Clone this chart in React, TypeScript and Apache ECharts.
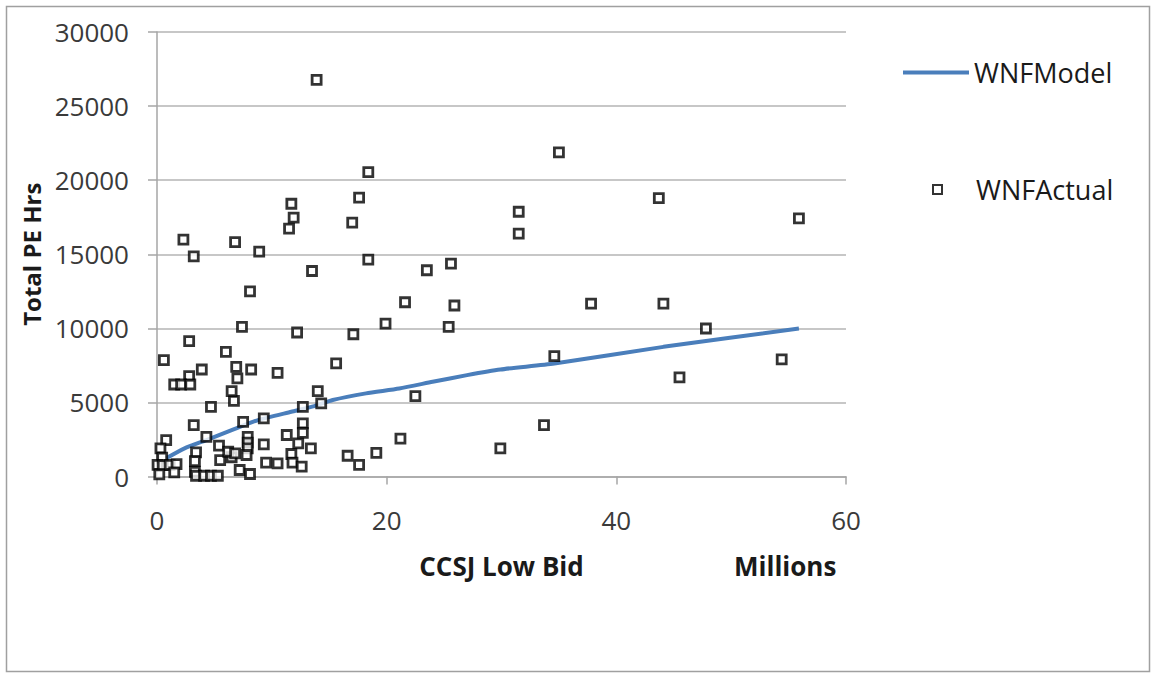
import React, { useEffect, useRef } from "react";
import * as echarts from "echarts";

// WNFActual: CCSJ low bid (millions) vs total PE hours
const bidMillions = [
  3.2, 0.8, 4.3, 0.3, 5.4, 3.4, 0.45, 3.3, 5.5, 0.05, 0.5, 1.1, 1.7, 0.2, 1.5, 3.3, 3.4, 4.1, 4.7, 5.3,
  6.5, 6.2, 6.8, 7.5, 9.3, 7.9, 7.9, 7.9, 9.3, 11.3, 12.3, 12.7, 12.7, 13.4, 7.8, 11.7, 9.5, 10.5, 11.8, 12.6,
  7.2, 8.1, 12.7, 6.7, 4.7, 2.8, 6.0, 0.6, 3.9, 6.9, 8.2, 2.8, 1.5, 2.1, 2.9, 7.0, 6.5, 10.5, 15.6, 14.0,
  14.3, 12.2, 7.4, 11.7, 11.9, 11.5, 2.3, 6.8, 8.9, 3.2, 13.5, 8.1, 13.9, 18.4, 17.6, 17.0, 18.4, 23.5, 25.6, 21.6,
  25.9, 19.9, 17.1, 25.4, 22.5, 21.2, 16.6, 17.6, 19.1, 35.0, 31.5, 31.5, 43.7, 55.9, 37.8, 44.1, 47.8, 34.6, 54.4, 45.5,
  33.7, 29.9,
];
const peHours = [
  3470, 2460, 2680, 1900, 2080, 1630, 1270, 1040, 1110, 780, 770, 780, 840, 150, 280, 320, 50, 50, 50, 50,
  1300, 1670, 1560, 3690, 3920, 2680, 2280, 1900, 2170, 2800, 2240, 3590, 2950, 1900, 1450, 1520, 930, 890, 930, 660,
  440, 170, 4700, 5110, 4700, 9130, 8410, 7850, 7220, 7400, 7220, 6770, 6210, 6210, 6210, 6620, 5760, 7000, 7630, 5760,
  4930, 9720, 10100, 18410, 17470, 16730, 15990, 15820, 15180, 14860, 13870, 12500, 26770, 20540, 18820, 17130, 14640, 13920, 14370, 11760,
  11540, 10320, 9600, 10100, 5420, 2550, 1400, 780, 1600, 21870, 17870, 16390, 18790, 17420, 11670, 11670, 9990, 8120, 7900, 6690,
  3470, 1900,
];

// WNFModel: fitted curve
const modelBid = [0.8, 2.4, 4.3, 6.5, 8.8, 11.7, 13.7, 15.3, 18.2, 21.1, 24.0, 27.0, 29.9, 34.6, 44.1, 55.9];
const modelHours = [1230, 1900, 2460, 3130, 3810, 4370, 4750, 5160, 5610, 5940, 6390, 6840, 7220, 7630, 8750, 9990];

const xTicks = [0, 20, 40, 60];
const yTicks = [0, 5000, 10000, 15000, 20000, 25000, 30000];

const FONT = "'Open Sans', 'Noto Sans', sans-serif";

export default function App() {
  const ref = useRef<HTMLDivElement>(null);

  useEffect(() => {
    if (!ref.current) return;
    const chart = echarts.init(ref.current, undefined, { renderer: "svg" });
    const actual = bidMillions.map((x, i) => [x, peHours[i]]);
    const model = modelBid.map((x, i) => [x, modelHours[i]]);

    chart.setOption({
      animation: false,
      backgroundColor: "#ffffff",
      textStyle: { fontFamily: FONT },
      grid: { left: 157, top: 32, width: 689, height: 444.5, containLabel: false },
      xAxis: {
        type: "value",
        min: xTicks[0],
        max: xTicks[xTicks.length - 1],
        interval: 20,
        name: "CCSJ Low Bid",
        nameLocation: "middle",
        nameGap: 76,
        nameTextStyle: { fontFamily: FONT, fontSize: 26, fontWeight: "bold", color: "#1a1a1a" },
        axisLine: { show: true, lineStyle: { color: "#a6a6a6", width: 1.5 } },
        axisTick: { show: true, inside: false, length: 8, lineStyle: { color: "#a6a6a6", width: 1.5 } },
        axisLabel: { fontFamily: FONT, fontSize: 26, color: "#3a3a3a", margin: 30 },
        splitLine: { show: false },
      },
      yAxis: {
        type: "value",
        min: yTicks[0],
        max: yTicks[yTicks.length - 1],
        interval: 5000,
        name: "Total PE Hrs",
        nameLocation: "middle",
        nameGap: 112,
        nameRotate: 90,
        nameTextStyle: { fontFamily: FONT, fontSize: 24, fontWeight: "bold", color: "#1a1a1a" },
        axisLine: { show: true, lineStyle: { color: "#a6a6a6", width: 1.5 } },
        axisTick: { show: true, inside: false, length: 9, lineStyle: { color: "#a6a6a6", width: 1.5 } },
        axisLabel: {
          fontFamily: FONT,
          fontSize: 26,
          color: "#3a3a3a",
          margin: 28,
          formatter: (v: number) => String(v),
        },
        splitLine: { show: true, lineStyle: { color: "#b4b4b4", width: 1.5 } },
      },
      legend: [
        {
          data: [{ name: "WNFModel", icon: "path://M0,0H66V4H0Z" }],
          orient: "vertical",
          left: 898,
          top: 54,
          itemWidth: 66,
          itemHeight: 4,
          textStyle: { fontFamily: FONT, fontSize: 27, color: "#1a1a1a" },
        },
        {
          data: [{ name: "WNFActual", icon: "rect" }],
          orient: "vertical",
          left: 927,
          top: 171,
          itemWidth: 9,
          itemHeight: 9,
          textStyle: { fontFamily: FONT, fontSize: 27, color: "#1a1a1a", padding: [0, 0, 0, 29] },
        },
      ],
      graphic: [
        {
          type: "rect",
          silent: true,
          shape: { x: 6.5, y: 6.5, width: 1143, height: 665 },
          style: { fill: "none", stroke: "#a0a0a0", lineWidth: 1.5 },
          z: -10,
        },
        {
          type: "text",
          x: 734,
          y: 566,
          style: {
            text: "Millions",
            fontFamily: FONT,
            fontSize: 26,
            fontWeight: "bold",
            fill: "#1a1a1a",
            align: "left",
            verticalAlign: "middle",
          },
        },
      ],
      series: [
        {
          name: "WNFModel",
          type: "line",
          data: model,
          showSymbol: false,
          symbol: "none",
          smooth: 0.2,
          lineStyle: { color: "#4a7ebb", width: 4 },
          itemStyle: { color: "#4a7ebb" },
          z: 2,
        },
        {
          name: "WNFActual",
          type: "scatter",
          data: actual,
          symbol: "rect",
          symbolSize: 9,
          itemStyle: { color: "#ffffff", borderColor: "#000000", borderWidth: 2.8 },
          z: 3,
        },
      ],
    });
    return () => chart.dispose();
  }, []);

  return (
    <div
      ref={ref}
      style={{ position: "fixed", left: 0, top: 0, width: 1153, height: 675, background: "#fff" }}
    />
  );
}
